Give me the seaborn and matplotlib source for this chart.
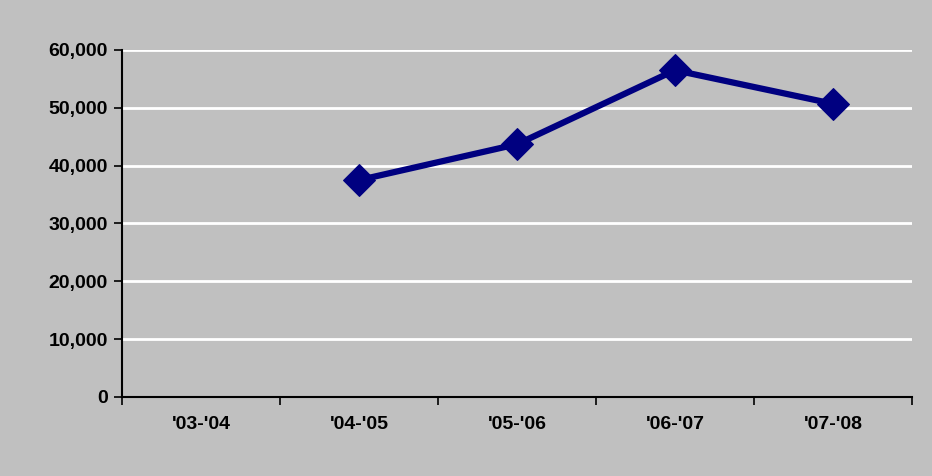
import numpy as np
import pandas as pd
import matplotlib
matplotlib.use("Agg")
import matplotlib.pyplot as plt
import seaborn as sns
from matplotlib.ticker import FuncFormatter, FixedLocator

# Values
seasons = ["'03-'04", "'04-'05", "'05-'06", "'06-'07", "'07-'08"]
counts = [np.nan, 37500, 43700, 56500, 50700]
y_ticks = [0, 10000, 20000, 30000, 40000, 50000, 60000]

df = pd.DataFrame({"pos": np.arange(len(seasons)), "count": counts})

sns.set_style("white")
plt.rcParams["font.family"] = ["Liberation Sans", "DejaVu Sans"]
plt.rcParams["font.weight"] = "bold"
plt.rcParams["text.color"] = "black"
plt.rcParams["xtick.color"] = "black"
plt.rcParams["ytick.color"] = "black"

gray = "#C0C0C0"
fig = plt.figure(figsize=(9.32, 4.76), dpi=100, facecolor=gray)
ax = fig.add_axes([0.1309, 0.166, 0.8476, 0.729])
ax.set_facecolor(gray)

sns.lineplot(data=df.dropna(), x="pos", y="count", ax=ax, color="#000080",
             linewidth=4.5, marker="D", markersize=16, markeredgecolor="#000080",
             zorder=3)

ax.set_xlim(-0.5, len(seasons) - 0.5)
ax.set_ylim(y_ticks[0], y_ticks[-1])
ax.set_yticks(y_ticks)
ax.yaxis.set_major_formatter(FuncFormatter(lambda v, p: f"{int(v):,}"))
for v in y_ticks[1:]:
    ax.axhline(v, color="white", linewidth=2, zorder=1)

ax.set_xticks(np.arange(len(seasons)))
ax.set_xticklabels(seasons)
ax.xaxis.set_minor_locator(FixedLocator(np.arange(len(seasons) + 1) - 0.5))
ax.tick_params(axis="x", which="both", bottom=True)
ax.tick_params(axis="y", which="both", left=True)
ax.tick_params(axis="x", which="major", length=0, pad=14, labelsize=14, labelcolor="black")
ax.tick_params(axis="x", which="minor", length=6, width=1.2, color="black", direction="out")
ax.tick_params(axis="y", length=6, width=1.2, color="black", direction="out",
               labelsize=14, pad=4, labelcolor="black")
for lbl in ax.get_xticklabels() + ax.get_yticklabels():
    lbl.set_fontweight("bold")

ax.set_xlabel("")
ax.set_ylabel("")
for s in ["top", "right"]:
    ax.spines[s].set_visible(False)
for s in ["left", "bottom"]:
    ax.spines[s].set_color("black")
    ax.spines[s].set_linewidth(1.5)
    ax.spines[s].set_zorder(4)

fig.savefig("out.png", dpi=100, facecolor=gray)
